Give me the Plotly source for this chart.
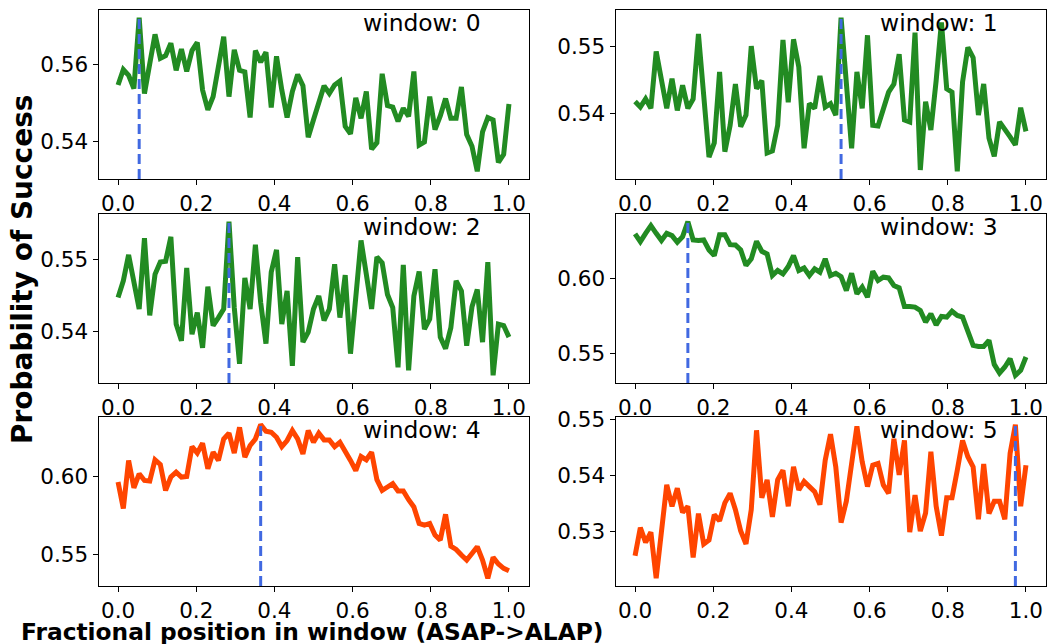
import plotly.graph_objects as go

N = 75
x_vals = [i / (N - 1) for i in range(N)]

w0 = [0.5546, 0.5586, 0.5571, 0.5537, 0.5720, 0.5524, 0.5601, 0.5677, 0.5615, 0.5622,
      0.5654, 0.5584, 0.5639, 0.5581, 0.5635, 0.5656, 0.5533, 0.5482, 0.5516, 0.5601,
      0.5671, 0.5516, 0.5637, 0.5584, 0.5580, 0.5462, 0.5635, 0.5605, 0.5631, 0.5488,
      0.5620, 0.5533, 0.5462, 0.5529, 0.5573, 0.5544, 0.5411, 0.5456, 0.5499, 0.5544,
      0.5524, 0.5546, 0.5556, 0.5439, 0.5420, 0.5513, 0.5460, 0.5529, 0.5380, 0.5397,
      0.5575, 0.5493, 0.5489, 0.5452, 0.5486, 0.5465, 0.5581, 0.5391, 0.5399, 0.5516,
      0.5431, 0.5466, 0.5511, 0.5460, 0.5460, 0.5541, 0.5418, 0.5388, 0.5323, 0.5425,
      0.5462, 0.5456, 0.5346, 0.5367, 0.5497]

w1 = [0.5418, 0.5410, 0.5422, 0.5408, 0.5492, 0.5449, 0.5408, 0.5452, 0.5405, 0.5442,
      0.5408, 0.5422, 0.5518, 0.5427, 0.5336, 0.5357, 0.5462, 0.5344, 0.5383, 0.5444,
      0.5381, 0.5398, 0.5500, 0.5437, 0.5449, 0.5342, 0.5345, 0.5383, 0.5509, 0.5417,
      0.5510, 0.5469, 0.5349, 0.5415, 0.5408, 0.5456, 0.5410, 0.5415, 0.5398, 0.5542,
      0.5442, 0.5349, 0.5462, 0.5408, 0.5516, 0.5383, 0.5382, 0.5408, 0.5432, 0.5444,
      0.5488, 0.5391, 0.5388, 0.5520, 0.5317, 0.5418, 0.5376, 0.5449, 0.5535, 0.5437,
      0.5432, 0.5315, 0.5447, 0.5498, 0.5483, 0.5398, 0.5444, 0.5364, 0.5337, 0.5388,
      0.5378, 0.5366, 0.5354, 0.5409, 0.5374]

w2 = [0.5447, 0.5470, 0.5506, 0.5467, 0.5431, 0.5529, 0.5422, 0.5479, 0.5496, 0.5497,
      0.5531, 0.5410, 0.5387, 0.5488, 0.5396, 0.5426, 0.5377, 0.5462, 0.5408, 0.5419,
      0.5431, 0.5552, 0.5433, 0.5355, 0.5474, 0.5431, 0.5520, 0.5440, 0.5383, 0.5482,
      0.5513, 0.5410, 0.5456, 0.5352, 0.5503, 0.5385, 0.5399, 0.5431, 0.5449, 0.5415,
      0.5431, 0.5493, 0.5419, 0.5478, 0.5369, 0.5447, 0.5526, 0.5479, 0.5431, 0.5503,
      0.5495, 0.5451, 0.5433, 0.5350, 0.5492, 0.5346, 0.5449, 0.5483, 0.5403, 0.5417,
      0.5486, 0.5392, 0.5376, 0.5405, 0.5470, 0.5456, 0.5380, 0.5434, 0.5458, 0.5385,
      0.5496, 0.5339, 0.5410, 0.5408, 0.5392]

w3 = [0.6293, 0.6242, 0.6297, 0.6348, 0.6297, 0.6249, 0.6297, 0.6282, 0.6238, 0.6275,
      0.6374, 0.6253, 0.6249, 0.6253, 0.6187, 0.6150, 0.6288, 0.6288, 0.6222, 0.6220,
      0.6187, 0.6084, 0.6128, 0.6244, 0.6178, 0.6161, 0.6018, 0.6051, 0.6029, 0.6077,
      0.6150, 0.6051, 0.6068, 0.6018, 0.6062, 0.6040, 0.6128, 0.6018, 0.6033, 0.6011,
      0.5919, 0.6033, 0.5897, 0.5941, 0.5875, 0.6046, 0.5985, 0.6007, 0.6002, 0.5952,
      0.5936, 0.5813, 0.5813, 0.5809, 0.5787, 0.5710, 0.5765, 0.5692, 0.5747, 0.5743,
      0.5782, 0.5754, 0.5743, 0.5655, 0.5556, 0.5549, 0.5549, 0.5589, 0.5430, 0.5373,
      0.5413, 0.5468, 0.5358, 0.5391, 0.5479]

w4 = [0.5964, 0.5793, 0.6103, 0.5927, 0.6017, 0.5974, 0.5970, 0.6107, 0.6077, 0.5910,
      0.5996, 0.6028, 0.5996, 0.6000, 0.6192, 0.6150, 0.6214, 0.6049, 0.6156, 0.6103,
      0.6241, 0.6278, 0.6150, 0.6316, 0.6124, 0.6199, 0.6241, 0.6333, 0.6291, 0.6284,
      0.6252, 0.6192, 0.6231, 0.6295, 0.6241, 0.6145, 0.6295, 0.6220, 0.6278, 0.6235,
      0.6235, 0.6192, 0.6220, 0.6167, 0.6103, 0.6038, 0.6128, 0.6107, 0.6156, 0.5979,
      0.5910, 0.5932, 0.5953, 0.5906, 0.5906, 0.5850, 0.5803, 0.5697, 0.5686, 0.5697,
      0.5622, 0.5590, 0.5756, 0.5551, 0.5530, 0.5494, 0.5461, 0.5504, 0.5547, 0.5461,
      0.5344, 0.5479, 0.5436, 0.5408, 0.5393]

w5 = [0.5257, 0.5307, 0.5281, 0.5299, 0.5217, 0.5310, 0.5383, 0.5345, 0.5377, 0.5334,
      0.5345, 0.5254, 0.5332, 0.5278, 0.5285, 0.5330, 0.5319, 0.5351, 0.5368, 0.5339,
      0.5301, 0.5278, 0.5339, 0.5480, 0.5360, 0.5392, 0.5326, 0.5392, 0.5409, 0.5345,
      0.5415, 0.5374, 0.5389, 0.5380, 0.5371, 0.5348, 0.5427, 0.5473, 0.5415, 0.5316,
      0.5354, 0.5421, 0.5487, 0.5424, 0.5380, 0.5418, 0.5421, 0.5383, 0.5368, 0.5465,
      0.5401, 0.5462, 0.5299, 0.5365, 0.5301, 0.5333, 0.5442, 0.5345, 0.5293, 0.5360,
      0.5360, 0.5409, 0.5462, 0.5433, 0.5415, 0.5322, 0.5420, 0.5332, 0.5354, 0.5354,
      0.5322, 0.5439, 0.5490, 0.5345, 0.5418]

series = [w0, w1, w2, w3, w4, w5]
window_labels = ["window: 0", "window: 1", "window: 2", "window: 3", "window: 4", "window: 5"]
line_colors = ["#228B22", "#228B22", "#228B22", "#228B22", "#FF4500", "#FF4500"]
y_ticks = [[0.54, 0.56], [0.54, 0.55], [0.54, 0.55], [0.55, 0.60], [0.55, 0.60], [0.53, 0.54, 0.55]]
x_ticks = [0.0, 0.2, 0.4, 0.6, 0.8, 1.0]

W, H = 1048, 644
col_px = [(98.5, 528.5), (615.5, 1045.5)]
row_px = [(10.0, 179.0), (214.0, 383.0), (417.0, 586.0)]

fig = go.Figure()
FONT = "DejaVu Sans"

for k, ys in enumerate(series):
    r, c = divmod(k, 2)
    ax = "" if k == 0 else str(k + 1)
    xa, ya = "x" + ax, "y" + ax
    lo, hi = min(ys), max(ys)
    pad = 0.05 * (hi - lo)
    ylo, yhi = lo - pad, hi + pad
    imax = ys.index(hi)
    fig.add_trace(go.Scatter(x=x_vals, y=ys, mode="lines", xaxis=xa, yaxis=ya,
                             line=dict(color=line_colors[k], width=5), showlegend=False,
                             hoverinfo="skip"))
    fig.add_trace(go.Scatter(x=[x_vals[imax], x_vals[imax]], y=[ylo, hi], mode="lines",
                             xaxis=xa, yaxis=ya,
                             line=dict(color="#4169E1", width=3, dash="10px,5px"),
                             showlegend=False, hoverinfo="skip"))
    x0, x1 = col_px[c]
    y0, y1 = row_px[r]
    common = dict(showline=True, linecolor="black", linewidth=1, mirror=True,
                  ticks="outside", ticklen=5, tickwidth=1, tickcolor="black",
                  showgrid=False, zeroline=False, automargin=False,
                  tickfont=dict(family=FONT, size=21.5, color="black"))
    fig.layout["xaxis" + ax] = dict(domain=[x0 / W, x1 / W], anchor=ya,
                                    range=[-0.05, 1.05], tickvals=x_ticks,
                                    ticktext=[f"{t:.1f}" for t in x_ticks], **common)
    fig.layout["yaxis" + ax] = dict(domain=[1 - y1 / H, 1 - y0 / H], anchor=xa,
                                    range=[ylo, yhi], tickvals=y_ticks[k],
                                    ticktext=[f"{t:.2f}" for t in y_ticks[k]], **common)
    fig.add_annotation(text=window_labels[k], xref=xa + " domain", yref=ya + " domain",
                       x=0.61, y=0.925, xanchor="left", yanchor="middle", showarrow=False,
                       font=dict(family=FONT, size=23.4, color="black"))

fig.add_annotation(text="<b>Probability of Success</b>", xref="paper", yref="paper",
                   x=22 / W, y=1 - 269 / H, textangle=-90, showarrow=False,
                   xanchor="center", yanchor="middle",
                   font=dict(family=FONT, size=28, color="black"))
fig.add_annotation(text="<b>Fractional position in window (ASAP->ALAP)</b>", xref="paper",
                   yref="paper", x=312 / W, y=1 - 631 / H, showarrow=False,
                   xanchor="center", yanchor="middle",
                   font=dict(family=FONT, size=23.3, color="black"))

fig.update_layout(width=W, height=H, margin=dict(l=0, r=0, t=0, b=0, autoexpand=False),
                  paper_bgcolor="white", plot_bgcolor="white")
fig.write_html("out.html", config={"displayModeBar": False},
               post_script="document.body.style.margin='0px';")
